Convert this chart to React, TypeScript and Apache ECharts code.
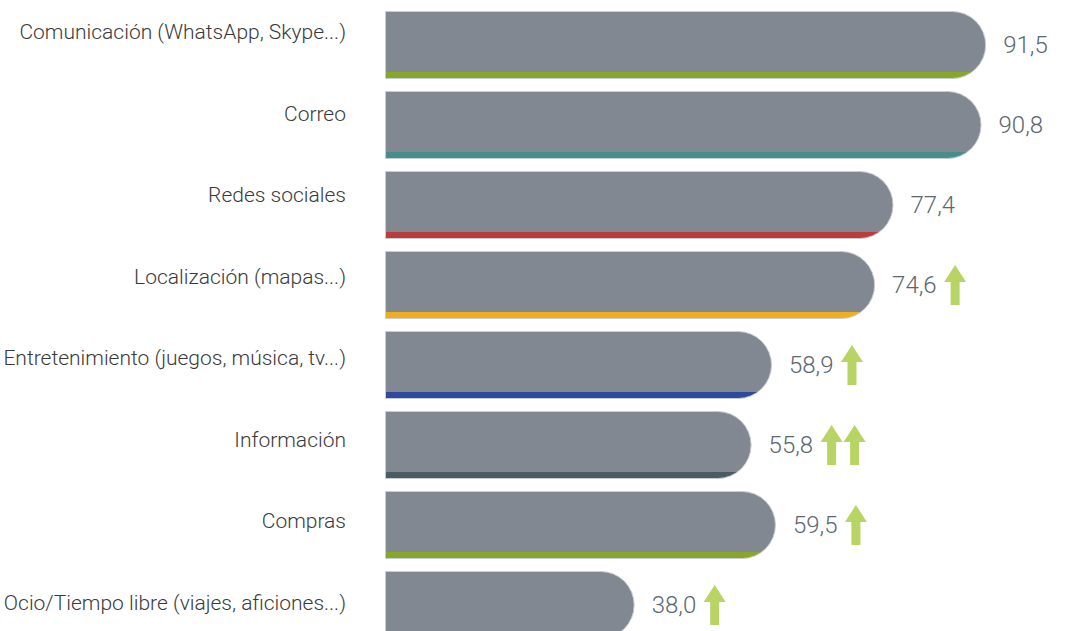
import React, { useEffect, useRef } from "react";
import * as echarts from "echarts";

const categories = [
  "Comunicación (WhatsApp, Skype...)",
  "Correo",
  "Redes sociales",
  "Localización (mapas...)",
  "Entretenimiento (juegos, música, tv...)",
  "Información",
  "Compras",
  "Ocio/Tiempo libre (viajes, aficiones...)",
];
const values = [91.5, 90.8, 77.4, 74.6, 58.9, 55.8, 59.5, 38.0];
const arrows = [0, 0, 0, 1, 1, 2, 1, 1];
const stripeColors = [
  "#87a62b",
  "#458e8b",
  "#b83d3b",
  "#f0ad1f",
  "#2d4a9e",
  "#4b5b66",
  "#87a62b",
  "#7a5a9a",
];

const BAR_GRAY = "#818891";
const ARROW_PATH =
  "path://M11,0 L22,17 L15.5,17 L15.5,40 L6.5,40 L6.5,17 L0,17 Z";

export default function App() {
  const ref = useRef<HTMLDivElement>(null);
  useEffect(() => {
    if (!ref.current) return;
    const chart = echarts.init(ref.current, null, { renderer: "svg" });
    const stripe = 7 / 68;
    const barData = values.map((v, i) => ({
      value: v,
      itemStyle: {
        color: new echarts.graphic.LinearGradient(0, 0, 0, 1, [
          { offset: 0, color: BAR_GRAY },
          { offset: 1 - stripe, color: BAR_GRAY },
          { offset: 1 - stripe, color: stripeColors[i] },
          { offset: 1, color: stripeColors[i] },
        ]),
      },
    }));
    const arrow1 = values
      .map((v, i) => (arrows[i] >= 1 ? [v, categories[i]] : null))
      .filter((d) => d !== null);
    const arrow2 = values
      .map((v, i) => (arrows[i] >= 2 ? [v, categories[i]] : null))
      .filter((d) => d !== null);

    chart.setOption({
      animation: false,
      grid: [
        { left: 385, top: 15, width: 657, height: 640 },
        { left: 385, top: 1.2, width: 657, height: 652.6 },
      ],
      xAxis: [
        { type: "value", min: 0, max: 100, show: false, gridIndex: 0 },
        { type: "value", min: 0, max: 100, show: false, gridIndex: 1 },
      ],
      yAxis: [
        {
          type: "category",
          data: categories,
          inverse: true,
          gridIndex: 0,
          axisLine: { show: false },
          axisTick: { show: false },
          axisLabel: { show: false },
          splitLine: { show: false },
        },
        {
          type: "category",
          data: categories,
          inverse: true,
          gridIndex: 1,
          axisLine: { show: false },
          axisTick: { show: false },
          splitLine: { show: false },
          axisLabel: {
            margin: 39,
            color: "#3a3a3a",
            fontFamily: "Roboto",
            fontWeight: 300,
            fontSize: 21,
          },
        },
      ],
      series: [
        {
          type: "bar",
          xAxisIndex: 0,
          yAxisIndex: 0,
          data: barData,
          barWidth: 68,
          itemStyle: {
            borderRadius: [0, 34, 34, 0],
            borderColor: "#c9ccd0",
            borderWidth: 1,
          },
          label: {
            show: true,
            position: "right",
            distance: 17,
            color: "#5b6770",
            fontFamily: "Roboto",
            fontWeight: 300,
            fontSize: 24,
            formatter: (p: any) => p.value.toFixed(1).replace(".", ","),
          },
        },
        {
          type: "scatter",
          xAxisIndex: 0,
          yAxisIndex: 0,
          data: arrow1,
          symbol: ARROW_PATH,
          symbolSize: [22, 40],
          symbolOffset: [80, 0],
          itemStyle: { color: "#a5c93d" },
          silent: true,
        },
        {
          type: "scatter",
          xAxisIndex: 0,
          yAxisIndex: 0,
          data: arrow2,
          symbol: ARROW_PATH,
          symbolSize: [22, 40],
          symbolOffset: [103, 0],
          itemStyle: { color: "#a5c93d" },
          silent: true,
        },
      ],
    });
    return () => chart.dispose();
  }, []);
  return (
    <div
      style={{
        position: "absolute",
        left: 0,
        top: 0,
        width: 1065,
        height: 631,
        overflow: "hidden",
      }}
    >
      <div
        ref={ref}
        style={{ position: "absolute", left: 0, top: -10, width: 1065, height: 690 }}
      />
    </div>
  );
}
